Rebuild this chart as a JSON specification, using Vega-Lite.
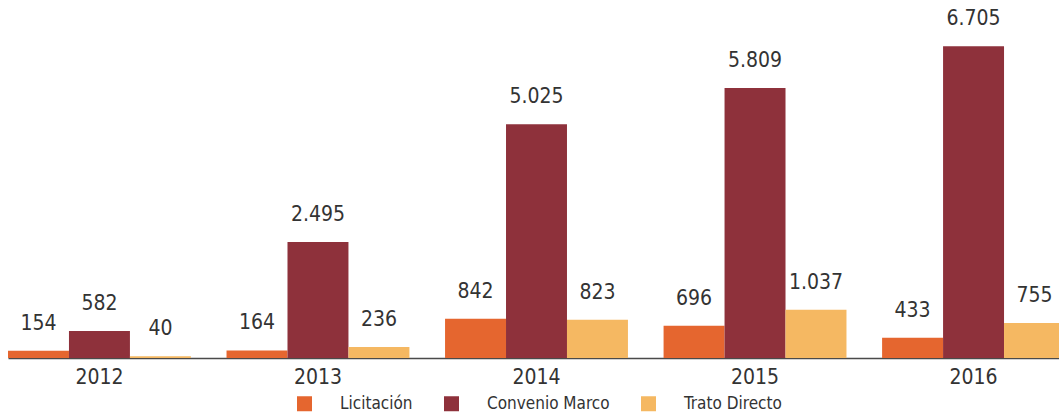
{
  "$schema": "https://vega.github.io/schema/vega-lite/v6.json",
  "width": 1057,
  "height": 358,
  "padding": {"left": 8, "top": 0, "right": 0, "bottom": 0},
  "background": "white",
  "data": {
    "values": [
      {"year": "2012", "tipo": "Licitación", "monto": 154},
      {"year": "2012", "tipo": "Convenio Marco", "monto": 582},
      {"year": "2012", "tipo": "Trato Directo", "monto": 40},
      {"year": "2013", "tipo": "Licitación", "monto": 164},
      {"year": "2013", "tipo": "Convenio Marco", "monto": 2495},
      {"year": "2013", "tipo": "Trato Directo", "monto": 236},
      {"year": "2014", "tipo": "Licitación", "monto": 842},
      {"year": "2014", "tipo": "Convenio Marco", "monto": 5025},
      {"year": "2014", "tipo": "Trato Directo", "monto": 823},
      {"year": "2015", "tipo": "Licitación", "monto": 696},
      {"year": "2015", "tipo": "Convenio Marco", "monto": 5809},
      {"year": "2015", "tipo": "Trato Directo", "monto": 1037},
      {"year": "2016", "tipo": "Licitación", "monto": 433},
      {"year": "2016", "tipo": "Convenio Marco", "monto": 6705},
      {"year": "2016", "tipo": "Trato Directo", "monto": 755}
    ]
  },
  "encoding": {
    "x": {
      "field": "year",
      "type": "nominal",
      "scale": {"paddingInner": 0.163, "paddingOuter": 0},
      "axis": {
        "title": null,
        "labelAngle": 0,
        "ticks": false,
        "domainColor": "#4a4a4a",
        "domainWidth": 1.5,
        "labelFontSize": 21,
        "labelColor": "#333333",
        "labelPadding": 8,
        "labelFont": "DejaVu Sans Condensed"
      }
    },
    "xOffset": {
      "field": "tipo",
      "type": "nominal",
      "sort": ["Licitación", "Convenio Marco", "Trato Directo"],
      "scale": {"paddingInner": 0, "paddingOuter": 0}
    },
    "y": {
      "field": "monto",
      "type": "quantitative",
      "scale": {"domain": [0, 7700]},
      "axis": null
    }
  },
  "layer": [
    {
      "mark": {"type": "bar"},
      "encoding": {
        "color": {
          "field": "tipo",
          "type": "nominal",
          "sort": ["Licitación", "Convenio Marco", "Trato Directo"],
          "scale": {
            "domain": ["Licitación", "Convenio Marco", "Trato Directo"],
            "range": ["#E5662F", "#8E313B", "#F5B862"]
          },
          "legend": {
            "title": null,
            "orient": "none",
            "direction": "horizontal",
            "legendX": 288,
            "legendY": 395,
            "symbolType": "square",
            "symbolSize": 225,
            "symbolStrokeWidth": 0,
            "labelFontSize": 17,
            "labelColor": "#333333",
            "labelFont": "DejaVu Sans Condensed",
            "labelOffset": 27,
            "columnPadding": 30
          }
        }
      }
    },
    {
      "mark": {
        "type": "text",
        "baseline": "middle",
        "dy": -27,
        "fontSize": 21,
        "color": "#333333",
        "font": "DejaVu Sans Condensed"
      },
      "encoding": {
        "text": {"field": "monto", "type": "quantitative", "format": ",d"}
      }
    }
  ],
  "config": {
    "view": {"stroke": null},
    "locale": {
      "number": {
        "decimal": ",",
        "thousands": ".",
        "grouping": [3],
        "currency": ["$", ""]
      }
    }
  }
}
